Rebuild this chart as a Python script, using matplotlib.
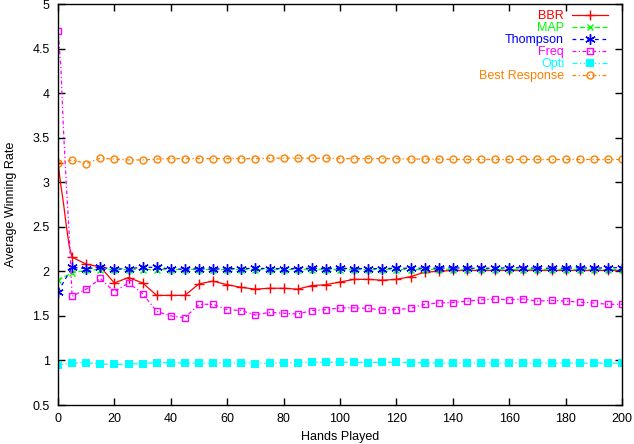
import matplotlib
matplotlib.use("Agg")
import matplotlib.pyplot as plt

plt.rcParams['font.family'] = ['Liberation Sans', 'DejaVu Sans']

# hands played, every 5 hands; BBR and Freq also have the first few hands
hands = list(range(0, 201, 5))
hands_fine = [0, 1, 2, 3, 4] + hands[1:]

bbr = [3.22, 2.97, 2.75, 2.50, 2.28,
       2.16, 2.08, 2.05, 1.87, 1.93, 1.87, 1.73, 1.73, 1.73, 1.86,
       1.89, 1.85, 1.82, 1.80, 1.81, 1.81, 1.80, 1.84, 1.85, 1.88,
       1.91, 1.91, 1.90, 1.91, 1.94, 1.99, 2.00, 2.01, 2.01, 2.01,
       2.01, 2.01, 2.01, 2.01, 2.01, 2.01, 2.01, 2.01, 2.01, 2.01]
freq = [4.70, 4.30, 3.55, 2.95, 2.40,
        1.72, 1.80, 1.92, 1.77, 1.87, 1.75, 1.55, 1.50, 1.48, 1.63,
        1.63, 1.57, 1.56, 1.51, 1.54, 1.53, 1.52, 1.56, 1.57, 1.59,
        1.59, 1.585, 1.565, 1.57, 1.585, 1.63, 1.645, 1.65, 1.665, 1.68,
        1.69, 1.68, 1.69, 1.665, 1.675, 1.665, 1.655, 1.645, 1.63, 1.63]
map_ = [1.90, 1.985, 2.01, 2.02, 2.02, 2.02, 2.02, 2.02, 2.02, 2.02,
        2.02, 2.02, 2.02, 2.02, 2.02, 2.02, 2.02, 2.02, 2.02, 2.02,
        2.02, 2.02, 2.02, 2.02, 2.02, 2.02, 2.02, 2.02, 2.02, 2.02,
        2.02, 2.02, 2.02, 2.02, 2.02, 2.02, 2.02, 2.02, 2.02, 2.02, 2.02]
thompson = [1.77, 2.045, 2.03, 2.045, 2.025, 2.03, 2.045, 2.045, 2.025, 2.025,
            2.03, 2.025, 2.03, 2.03, 2.035, 2.03, 2.03, 2.03, 2.035, 2.03,
            2.035, 2.03, 2.03, 2.03, 2.035, 2.035, 2.035, 2.035, 2.04, 2.035,
            2.035, 2.035, 2.04, 2.04, 2.035, 2.035, 2.035, 2.04, 2.035, 2.04, 2.04]
opti = [0.95, 0.97, 0.975, 0.96, 0.955, 0.96, 0.965, 0.975, 0.975, 0.97,
        0.97, 0.97, 0.97, 0.97, 0.965, 0.97, 0.975, 0.975, 0.98, 0.98,
        0.98, 0.98, 0.975, 0.98, 0.98, 0.975, 0.972, 0.97, 0.97, 0.97,
        0.97, 0.97, 0.97, 0.97, 0.97, 0.97, 0.97, 0.97, 0.97, 0.97, 0.97]
best = [3.22, 3.25, 3.21, 3.27, 3.26, 3.25, 3.25, 3.26, 3.265, 3.265,
        3.265, 3.265, 3.265, 3.265, 3.265, 3.27, 3.27, 3.27, 3.27, 3.27,
        3.265, 3.265, 3.265, 3.265, 3.265, 3.26, 3.26, 3.26, 3.255, 3.255,
        3.255, 3.255, 3.255, 3.255, 3.255, 3.255, 3.255, 3.255, 3.255, 3.255, 3.255]

fine_marks = [0] + list(range(5, len(hands_fine)))

fig = plt.figure(figsize=(6.34, 4.44), dpi=100)
ax = fig.add_axes([58 / 634, 1 - 405 / 444, 564 / 634, 401 / 444])

lw = 0.9
ax.plot(hands_fine, bbr, color='red', lw=lw, ls='-', marker='+', ms=7,
        mew=1, markevery=fine_marks, label='BBR')
ax.plot(hands, map_, color='#00ff00', lw=lw, ls=(0, (4, 2)), marker='x', ms=5,
        mew=1, label='MAP')
ax.plot(hands, thompson, color='blue', lw=lw, ls=(0, (3, 3)), marker=(6, 2, 0),
        ms=7.5, mew=1, label='Thompson')
ax.plot(hands_fine, freq, color='magenta', lw=lw, ls=(0, (3, 2, 1, 2)), marker='s',
        ms=5, mfc='none', mew=1, markevery=fine_marks, label='Freq')
ax.plot(hands, opti, color='cyan', lw=lw, ls=(0, (4, 2, 1, 2, 1, 2)), marker='s',
        ms=5.3, mew=0, label='Opti')
ax.plot(hands, best, color='#ff8000', lw=lw, ls=(0, (3, 2, 1, 2)), marker='o',
        ms=5, mfc='none', mew=1, label='Best Response')

ax.set_xlim(0, 200)
ax.set_ylim(0.5, 5)
ax.set_xticks(range(0, 201, 20))
ax.set_yticks([0.5, 1, 1.5, 2, 2.5, 3, 3.5, 4, 4.5, 5])
ax.set_yticklabels(['0.5', '1', '1.5', '2', '2.5', '3', '3.5', '4', '4.5', '5'])
ax.tick_params(direction='in', length=5, width=1, top=True, right=True,
               labelsize=9, pad=6)
for s in ax.spines.values():
    s.set_linewidth(1)

ax.set_xlabel('Hands Played', fontsize=9, labelpad=4)
ax.set_ylabel('Average Winning Rate', fontsize=9, labelpad=11)

leg = ax.legend(loc='upper right', bbox_to_anchor=(0.975, 0.984), frameon=False,
                markerfirst=False, labelcolor='linecolor', fontsize=9,
                handlelength=2.9, handletextpad=0.6, labelspacing=0.0,
                borderpad=0, borderaxespad=0)

fig.savefig('out.png', dpi=100)
